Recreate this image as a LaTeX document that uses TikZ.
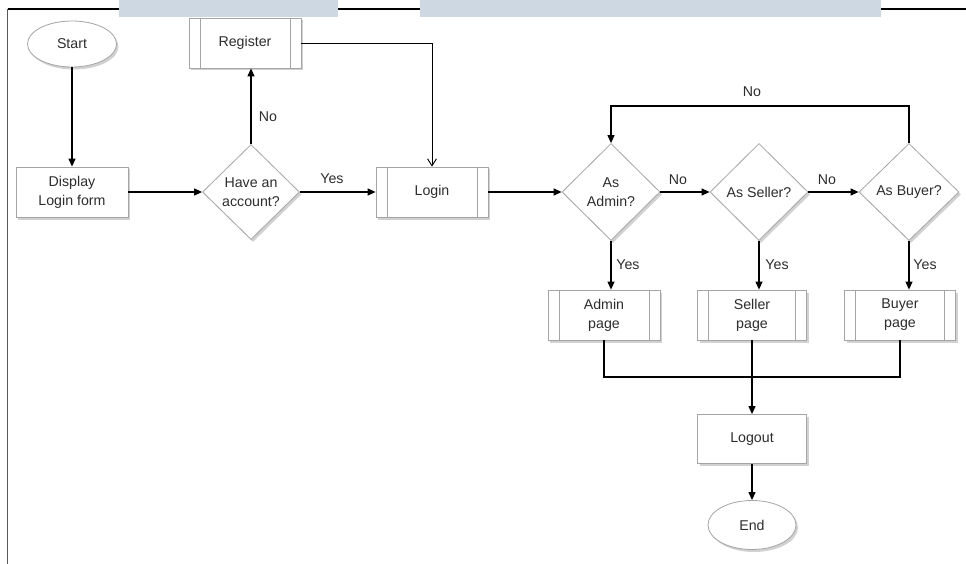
\documentclass[tikz,border=0pt]{standalone}
\usepackage{fontspec}
\setmainfont{Liberation Sans}
\usetikzlibrary{arrows.meta,shapes.geometric,shadows}
\definecolor{band}{RGB}{205,216,226}
\definecolor{edgegray}{RGB}{165,165,165}
\definecolor{txt}{RGB}{45,45,45}
\tikzset{
  every node/.style={font=\fontsize{14.2}{19}\selectfont, text=txt},
  shade/.style={drop shadow={shadow xshift=2pt, shadow yshift=-2.5pt, fill=black, opacity=0.18}},
  procbox/.style={draw=edgegray, fill=white, line width=0.8pt, rectangle, inner sep=0pt,
    minimum width=112pt, minimum height=50pt, align=center, shade},
  subproc/.style={procbox, path picture={
      \draw[edgegray, line width=0.8pt]
        ([xshift=11pt]path picture bounding box.north west) -- ([xshift=11pt]path picture bounding box.south west)
        ([xshift=-11pt]path picture bounding box.north east) -- ([xshift=-11pt]path picture bounding box.south east);}},
  decision/.style={draw=edgegray, fill=white, line width=0.8pt, diamond, aspect=1, inner sep=0pt,
    minimum width=98pt, minimum height=97pt, align=center, shade},
  terminal/.style={draw=edgegray, fill=white, line width=0.8pt, ellipse, inner sep=0pt,
    minimum width=89pt, minimum height=46pt, shade},
  flow/.style={black, line width=1.2pt, -{Triangle[length=8pt,width=7pt]}},
  plain/.style={black, line width=1.2pt},
  openflow/.style={black, line width=0.9pt, -{Straight Barb[length=7pt,width=9pt]}},
  lbl/.style={inner sep=0pt}
}
\begin{document}
\begin{tikzpicture}[x=1pt,y=-1pt]
\useasboundingbox (0,0) rectangle (966,564);
\fill[white] (0,0) rectangle (966,564);

% page frame
\draw[black, line width=1.2pt] (7.5,9) -- (966,9);
\draw[black!65, line width=1.4pt] (7.5,9) -- (7.5,564);
\fill[band] (119,0) rectangle (338,17);
\fill[band] (420,0) rectangle (881,17);

% nodes
\node[terminal] (start) at (72,44) {Start};
\node[procbox] (disp) at (72,192) {Display\\Login form};
\node[decision, minimum width=97pt, minimum height=95pt] (have) at (251,192) {Have an\\account?};
\node[subproc] (reg) at (245,43) {Register};
\node[subproc] (login) at (432,192) {Login};
\node[decision] (admin) at (611,192) {As\\Admin?};
\node[decision] (seller) at (759,192) {As Seller?};
\node[decision, minimum width=100pt] (buyer) at (909,192) {As Buyer?};
\node[subproc] (adminp) at (604,315) {Admin\\page};
\node[subproc, minimum width=109pt] (sellerp) at (752,315) {Seller\\page};
\node[subproc, minimum width=111pt] (buyerp) at (900,315) {Buyer\\page};
\node[procbox, minimum width=109pt, minimum height=49pt] (logout) at (752,439) {Logout};
\node[terminal, minimum width=88pt, minimum height=49pt] (end) at (752,525) {End};

% connectors
\draw[flow] (start) -- (disp);
\draw[flow] (disp) -- (have);
\draw[flow] (have.north) -- (have.north |- reg.south);
\draw[flow] (have) -- (login);
\draw[openflow] (reg.east) -- (432,43) -- (login.north);
\draw[flow] (login) -- (admin);
\draw[flow] (admin) -- (seller);
\draw[flow] (seller) -- (buyer);
\draw[flow] (buyer.north) -- (buyer.north |- 0,106) -| (admin.north);
\draw[flow] (admin.south) -- (admin.south |- adminp.north);
\draw[flow] (seller.south) -- (seller.south |- sellerp.north);
\draw[flow] (buyer.south) -- (buyer.south |- buyerp.north);
\draw[plain] (adminp.south) -- (adminp.south |- 0,377) -| (buyerp.south);
\draw[flow] (sellerp.south) -- (logout.north);
\draw[flow] (logout) -- (end);

% branch labels
\node[lbl] (lno1) at (268,117) {No};
\node[lbl] (lyes1) at (332,179) {Yes};
\node[lbl] (lno2) at (678,180) {No};
\node[lbl] (lno3) at (827,180) {No};
\node[lbl] (lno4) at (752,92) {No};
\node[lbl] (lyes2) at (628,265) {Yes};
\node[lbl] (lyes3) at (777,265) {Yes};
\node[lbl] (lyes4) at (925,265) {Yes};
\end{tikzpicture}
\end{document}
